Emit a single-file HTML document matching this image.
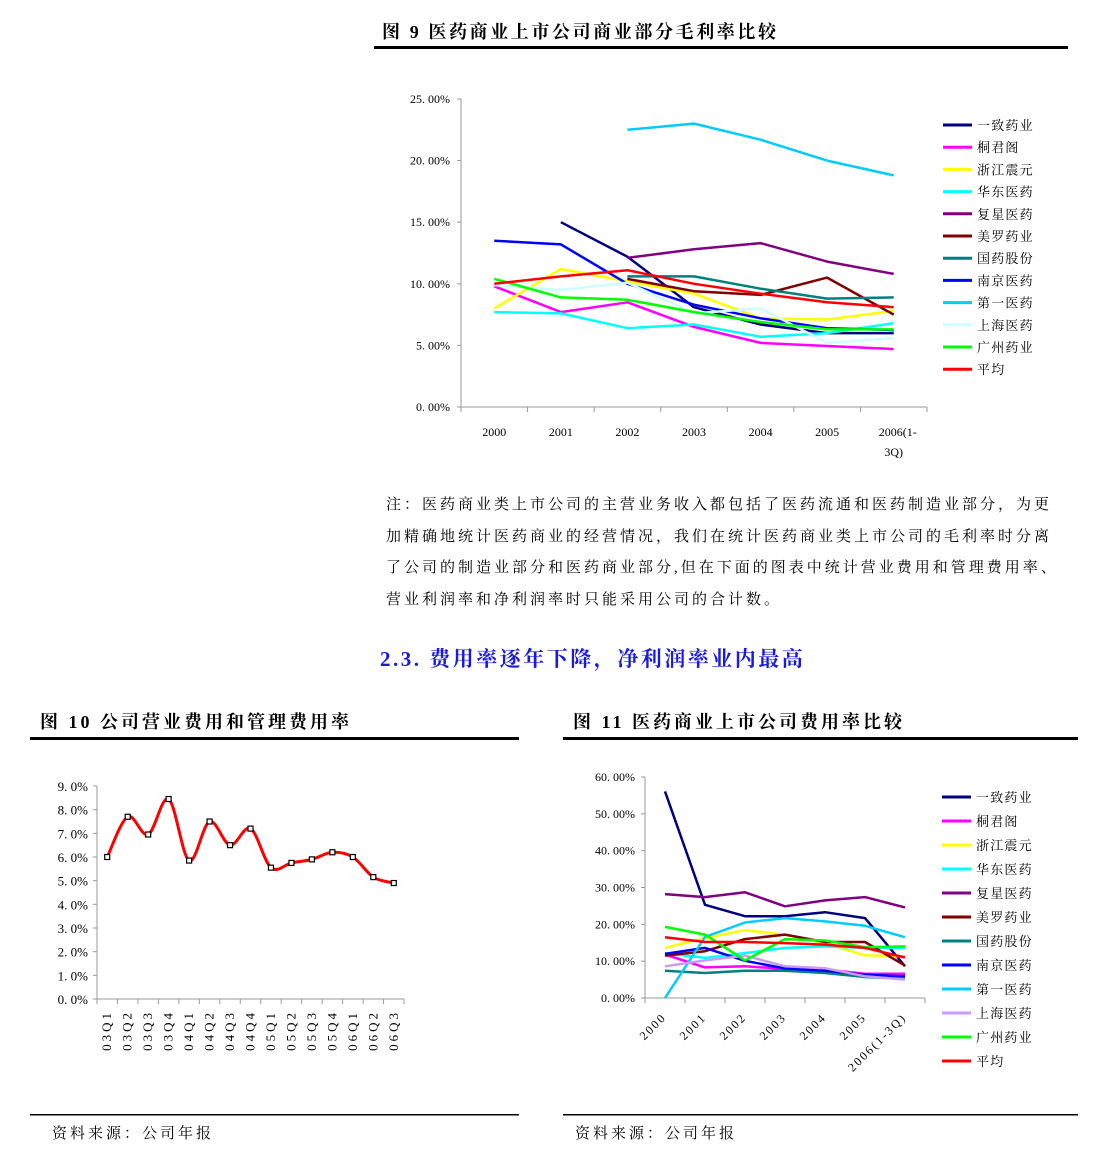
<!DOCTYPE html>
<html><head><meta charset="utf-8"><style>
body{margin:0;background:#fff;width:1108px;height:1158px;overflow:hidden;font-family:"Liberation Serif","Noto Serif CJK SC",serif}
svg{position:absolute;left:0;top:0}
.t{font-family:"Liberation Serif","Noto Serif CJK SC",serif}
</style></head><body>
<svg id="s" width="1108" height="1158" xmlns="http://www.w3.org/2000/svg">
<g>
<text x="382" y="38" font-size="18" font-weight="bold" letter-spacing="2.6" class="t">图  9 医药商业上市公司商业部分毛利率比较</text>
<rect x="374" y="46" width="694" height="3" fill="#000"/>
</g>
<g font-size="15" letter-spacing="3" class="t">
<text x="386" y="509">注：医药商业类上市公司的主营业务收入都包括了医药流通和医药制造业部分，为更</text>
<text x="386" y="541">加精确地统计医药商业的经营情况，我们在统计医药商业类上市公司的毛利率时分离</text>
<text x="386" y="572">了公司的制造业部分和医药商业部分,但在下面的图表中统计营业费用和管理费用率、</text>
<text x="386" y="604">营业利润率和净利润率时只能采用公司的合计数。</text>
</g>
<text x="380" y="666" font-size="21" font-weight="bold" fill="#1a1adb" letter-spacing="2.5" class="t">2.3. 费用率逐年下降，净利润率业内最高</text>
<g>
<text x="40" y="728" font-size="18" font-weight="bold" letter-spacing="3" class="t">图  10 公司营业费用和管理费用率</text>
<rect x="30" y="737" width="489" height="3" fill="#000"/>
</g>
<g>
<text x="573" y="728" font-size="18" font-weight="bold" letter-spacing="3" class="t">图  11 医药商业上市公司费用率比较</text>
<rect x="563" y="737" width="515" height="3" fill="#000"/>
</g>
<rect x="30" y="1114" width="489" height="1.5" fill="#000"/>
<rect x="563" y="1114" width="515" height="1.5" fill="#000"/>
<text x="52" y="1138" font-size="15" letter-spacing="3" class="t">资料来源：公司年报</text>
<text x="575" y="1138" font-size="15" letter-spacing="3" class="t">资料来源：公司年报</text>
<g id="c9"></g><g id="c10"></g><g id="c11"></g>
</svg>
<script>
const NS="http://www.w3.org/2000/svg";
const names=["一致药业","桐君阁","浙江震元","华东医药","复星医药","美罗药业","国药股份","南京医药","第一医药","上海医药","广州药业","平均"];
const colors9=["#000080","#ff00ff","#ffff00","#00ffff","#800080","#800000","#008080","#0000ff","#00ccff","#ccffff","#00ff00","#ff0000"];
const colors11=["#000080","#ff00ff","#ffff00","#00ffff","#800080","#800000","#008080","#0000ff","#00ccff","#cc99ff","#00ff00","#ff0000"];
const years9=["2000","2001","2002","2003","2004","2005","2006(1-3Q)"];
const yTicks9=["0.00%","5.00%","10.00%","15.00%","20.00%","25.00%"];
const s9_yz=[null,15.0,12.2,8.1,6.7,6.0,6.0];
const s9_tjg=[9.8,7.7,8.5,6.5,5.2,4.95,4.7];
const s9_zjzy=[8.0,11.2,10.2,9.2,7.2,7.1,7.8];
const s9_hd=[7.7,7.6,6.4,6.7,5.7,6.0,6.8];
const s9_fx=[null,null,12.1,12.8,13.3,11.8,10.8];
const s9_ml=[null,null,10.4,9.4,9.1,10.5,7.5];
const s9_gy=[null,null,10.6,10.6,9.6,8.8,8.9];
const s9_nj=[13.5,13.2,10.0,8.3,7.2,6.4,6.25];
const s9_dy=[null,null,22.5,23.0,21.7,20.0,18.8];
const s9_sh=[9.9,9.5,10.1,7.6,8.0,5.2,5.6];
const s9_gz=[10.4,8.9,8.7,7.7,6.9,6.3,6.3];
const s9_avg=[10.0,10.6,11.1,10.0,9.2,8.5,8.1];
const series9=[s9_yz,s9_tjg,s9_zjzy,s9_hd,s9_fx,s9_ml,s9_gy,s9_nj,s9_dy,s9_sh,s9_gz,s9_avg];

const quarters10=["03Q1","03Q2","03Q3","03Q4","04Q1","04Q2","04Q3","04Q4","05Q1","05Q2","05Q3","05Q4","06Q1","06Q2","06Q3"];
const values10=[6.0,7.7,6.95,8.45,5.85,7.5,6.5,7.2,5.55,5.75,5.9,6.2,6.0,5.15,4.9];
const yTicks10=["0.0%","1.0%","2.0%","3.0%","4.0%","5.0%","6.0%","7.0%","8.0%","9.0%"];

const years11=["2000","2001","2002","2003","2004","2005","2006(1-3Q)"];
const yTicks11=["0.00%","10.00%","20.00%","30.00%","40.00%","50.00%","60.00%"];
const s11_yz=[56.1,25.3,22.2,22.2,23.3,21.7,8.6];
const s11_tjg=[11.8,8.3,8.6,7.9,7.7,6.6,6.6];
const s11_zjzy=[13.6,16.3,18.4,17.2,14.9,11.6,11.3];
const s11_hd=[12.2,10.9,12.2,13.6,14.0,13.6,13.6];
const s11_fx=[28.2,27.4,28.7,24.9,26.5,27.4,24.6];
const s11_ml=[11.5,12.7,16.0,17.2,15.2,15.2,8.8];
const s11_gy=[7.4,6.8,7.4,7.4,6.8,5.7,5.2];
const s11_nj=[12.0,13.6,10.1,8.0,7.4,6.3,5.9];
const s11_dy=[0,16.6,20.5,21.7,20.8,19.6,16.5];
const s11_sh=[8.6,10.2,11.5,8.6,8.1,5.9,5.0];
const s11_gz=[19.3,17.2,10.2,16.0,15.6,13.8,14.0];
const s11_avg=[16.5,15.2,15.2,14.9,14.5,13.6,11.0];
const series11=[s11_yz,s11_tjg,s11_zjzy,s11_hd,s11_fx,s11_ml,s11_gy,s11_nj,s11_dy,s11_sh,s11_gz,s11_avg];

function el(tag,attrs,parent){const e=document.createElementNS(NS,tag);for(const k in attrs)e.setAttribute(k,attrs[k]);parent.appendChild(e);return e;}

function axes(g,x0,x1,y0,y1,n,nT,tickDir){
  const a=el("line",{x1:x0,y1:y0,x2:x0,y2:y1,stroke:"#999","stroke-width":1},g);
  
  
  const b=el("line",{x1:x0,y1:y0,x2:x1,y2:y0,stroke:"#999","stroke-width":1},g);
  
  
  for(let i=0;i<nT;i++){const y=y0-(y0-y1)*i/(nT-1);el("line",{x1:x0-4,y1:y,x2:x0,y2:y,stroke:"#999"},g);}
  for(let i=0;i<=n;i++){const x=x0+(x1-x0)*i/n;el("line",{x1:x,y1:y0,x2:x,y2:y0+(tickDir||5),stroke:"#999"},g);}
}

function lineChart(g,series,colors,x0,x1,y0,y1,ymax,n,sw,key){
  const X=i=>x0+(x1-x0)*(i+0.5)/n, Y=v=>y0-(y0-y1)*v/ymax;
  series.forEach((s,k)=>{
    let d="";let started=false;
    s.forEach((v,i)=>{if(v==null){started=false;return;}d+=(started?"L":"M")+X(i).toFixed(1)+","+Y(v).toFixed(1);started=true;});
    const p=el("path",{d:d,fill:"none",stroke:colors[k],"stroke-width":sw,"stroke-linejoin":"round"},g);
    
    
  });
}

function legend(g,x,y,dy,colors,fs){
  names.forEach((nm,i)=>{
    const gg=el("g",{},g);
    
    
    el("line",{x1:x,y1:y+dy*i,x2:x+29,y2:y+dy*i,stroke:colors[i],"stroke-width":3},gg);
    const t=el("text",{x:x+34,y:y+dy*i+5,"font-size":fs,"letter-spacing":1.2,class:"t"},gg);t.textContent=nm;
  });
}

// Chart 9
(function(){
  const g=document.getElementById("c9");
  
  
  const x0=461,x1=927,y0=407,y1=99;
  axes(g,x0,x1,y0,y1,7,yTicks9.length,5);
  yTicks9.forEach((t,i)=>{const e=el("text",{x:450,y:y0-(y0-y1)*i/(yTicks9.length-1)+4,"font-size":12,"text-anchor":"end",class:"t"},g);e.textContent=t.replace(".",". ");
    });
  years9.forEach((t,i)=>{const x=x0+(x1-x0)*(i+0.5)/7;
    if(i==6){const e=el("text",{x:x+4,y:436,"font-size":12,"text-anchor":"middle",class:"t"},g);e.textContent="2006(1-";
      const e2=el("text",{x:x,y:456,"font-size":12,"text-anchor":"middle",class:"t"},g);e2.textContent="3Q)";}
    else{const e=el("text",{x:x,y:436,"font-size":12,"text-anchor":"middle",class:"t"},g);e.textContent=t;
      }
  });
  lineChart(g,series9,colors9,x0,x1,y0,y1,25,7,2.5,"fig9");
  legend(g,943,125,22.2,colors9,13);
})();

// Chart 10
(function(){
  const g=document.getElementById("c10");
  
  
  const x0=97,x1=404,y0=999,y1=786,n=quarters10.length;
  axes(g,x0,x1,y0,y1,n,yTicks10.length,5);
  yTicks10.forEach((t,i)=>{const e=el("text",{x:88,y:y0-(y0-y1)*i/9+5,"font-size":13,"text-anchor":"end",class:"t"},g);e.textContent=t.replace(".",". ");
    });
  const X=i=>x0+(x1-x0)*(i+0.5)/n, Y=v=>y0-(y0-y1)*v/9;
  quarters10.forEach((q,i)=>{const e=el("text",{x:0,y:0,"font-size":13,"text-anchor":"end",class:"t",transform:`translate(${X(i)+4},1010) rotate(-90)`,"letter-spacing":"3"},g);e.textContent=q;
    });
  const P=values10.map((v,i)=>[X(i),Y(v)]);
  let d="M"+P[0][0]+","+P[0][1];
  for(let i=0;i<P.length-1;i++){const p0=P[i-1]||P[i],p1=P[i],p2=P[i+1],p3=P[i+2]||P[i+1];const t=1/6;
    d+=`C${p1[0]+(p2[0]-p0[0])*t},${p1[1]+(p2[1]-p0[1])*t} ${p2[0]-(p3[0]-p1[0])*t},${p2[1]-(p3[1]-p1[1])*t} ${p2[0]},${p2[1]}`;}
  const p=el("path",{d:d,fill:"none",stroke:"#ff0000","stroke-width":3},g);
  
  
  P.forEach(pt=>{const r=el("rect",{x:pt[0]-2.5,y:pt[1]-2.5,width:5,height:5,fill:"#fff",stroke:"#000","stroke-width":1.2},g);
    });
})();

// Chart 11
(function(){
  const g=document.getElementById("c11");
  
  
  const x0=645,x1=925,y0=998,y1=777;
  axes(g,x0,x1,y0,y1,7,yTicks11.length,5);
  yTicks11.forEach((t,i)=>{const e=el("text",{x:635,y:y0-(y0-y1)*i/6+4,"font-size":12,"text-anchor":"end",class:"t"},g);e.textContent=t.replace(".",". ");
    });
  years11.forEach((t,i)=>{const x=x0+(x1-x0)*(i+0.5)/7;const e=el("text",{x:0,y:0,"font-size":12,"text-anchor":"end",class:"t","letter-spacing":"2",transform:`translate(${x+2},1018) rotate(-45)`},g);e.textContent=t;
    });
  lineChart(g,series11,colors11,x0,x1,y0,y1,60,7,2.5,"fig11");
  legend(g,942,797,24,colors11,13);
})();
</script>
</body></html>
